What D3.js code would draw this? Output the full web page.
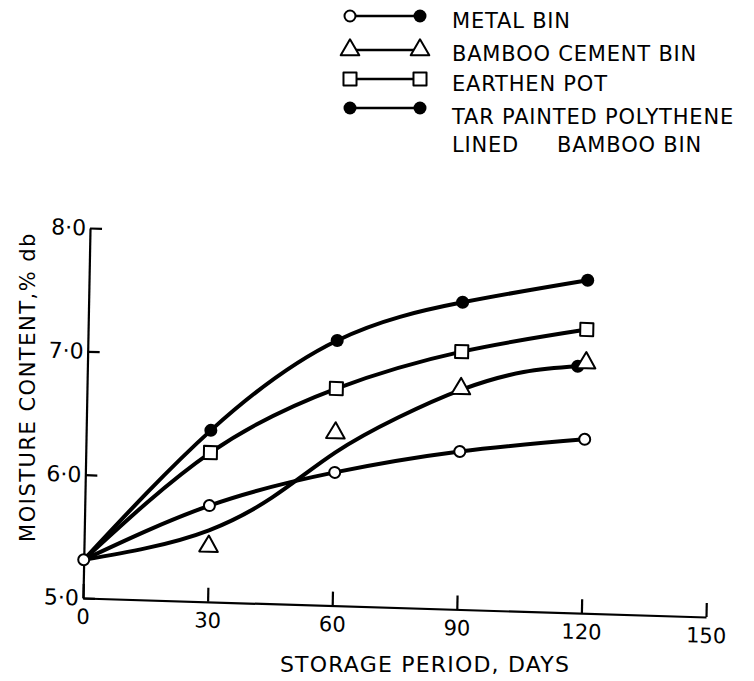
<!DOCTYPE html>
<html>
<head>
<meta charset="utf-8">
<script src="https://cdn.jsdelivr.net/npm/d3@7"></script>
<style>
  body { margin: 0; background: #fff; }
  text { font-family: "DejaVu Sans", sans-serif; fill: #000; }
</style>
</head>
<body>
<svg id="chart" width="754" height="681"></svg>
<script>
// storage period (days) and moisture content (% db)
var days = [0, 30, 60, 90, 120];
var metalBin = [5.31, 5.78, 6.08, 6.28, 6.41];
var bambooCementBin = [5.31, 5.45, 6.40, 6.79, 7.03];
var earthenPot = [5.31, 6.21, 6.76, 7.09, 7.30];
var tarPaintedBin = [5.31, 6.39, 7.15, 7.49, 7.70];

// the bamboo cement bin curve is a fitted line, it does not pass through its points
var bambooCurveDays = [0, 15, 30, 45, 60, 75, 90, 105, 118];
var bambooCurve = [5.31, 5.42, 5.58, 5.86, 6.24, 6.54, 6.78, 6.94, 7.00];

var xTicks = [0, 30, 60, 90, 120, 150];
var yTicks = [5, 6, 7, 8];
var yTickLabels = ["5·0", "6·0", "7·0", "8·0"];

var legendLabels = ["METAL BIN", "BAMBOO CEMENT BIN", "EARTHEN POT", "TAR PAINTED POLYTHENE"];
var legendMarkers = [["open", "filled"], ["triangle", "triangle"], ["square", "square"], ["filled", "filled"]];

var svg = d3.select("#chart");

var xScale = d3.scaleLinear().domain([0, 150]).range([0, 623]);
var yScale = d3.scaleLinear().domain([5, 8]).range([0, -370]);

// the scanned figure is a little skewed, so the plot frame is too
var plot = svg.append("g")
  .attr("transform", "translate(83,598) matrix(1,0.0305,-0.019,1,0,0)");

function drawMarker(g, type, x, y)
{
  if (type == "open") {
    g.append("circle").attr("cx", x).attr("cy", y).attr("r", 5.5)
     .attr("fill", "#fff").attr("stroke", "#000").attr("stroke-width", 2);
  } else if (type == "filled") {
    g.append("circle").attr("cx", x).attr("cy", y).attr("r", 6.5).attr("fill", "#000");
  } else {
    var sym = type == "square" ? d3.symbolSquare : d3.symbolTriangle;
    var size = type == "square" ? 170 : 150;
    g.append("path")
     .attr("d", d3.symbol().type(sym).size(size)())
     .attr("transform", "translate(" + x + "," + y + ")")
     .attr("fill", "#fff").attr("stroke", "#000").attr("stroke-width", 2)
     .attr("stroke-linejoin", "round");
  }
}

// axes
var xAxis = d3.axisBottom(xScale).tickValues(xTicks)
  .tickSizeInner(-14).tickSizeOuter(0).tickPadding(11)
  .tickFormat(d3.format("d"));
var gx = plot.append("g").call(xAxis);
gx.attr("font-size", 21).attr("font-family", "DejaVu Sans");

var yAxis = d3.axisLeft(yScale).tickValues(yTicks)
  .tickSizeInner(-12).tickSizeOuter(0).tickPadding(4)
  .tickFormat(function(d, i) { return yTickLabels[i]; });
var gy = plot.append("g").call(yAxis);
gy.attr("font-size", 22).attr("font-family", "DejaVu Sans");

plot.selectAll(".domain, .tick line").attr("stroke", "#000").attr("stroke-width", 2.2);

// curves
var line = d3.line()
  .x(function(d) { return xScale(d.day); })
  .y(function(d) { return yScale(d.value); })
  .curve(d3.curveNatural);

function toPoints(xs, ys)
{
  return xs.map(function(x, i) { return {day: x, value: ys[i]}; });
}

var series = [
  {values: tarPaintedBin, marker: "filled"},
  {values: earthenPot, marker: "square"},
  {values: metalBin, marker: "open"}
];

series.forEach(function(s) {
  plot.append("path").attr("d", line(toPoints(days, s.values)))
    .attr("fill", "none").attr("stroke", "#000").attr("stroke-width", 4)
    .attr("stroke-linecap", "round");
});

var bambooPts = toPoints(bambooCurveDays, bambooCurve);
plot.append("path").attr("d", line(bambooPts))
  .attr("fill", "none").attr("stroke", "#000").attr("stroke-width", 4)
  .attr("stroke-linecap", "round");
var lastPt = bambooPts[bambooPts.length - 1];
drawMarker(plot, "filled", xScale(lastPt.day), yScale(lastPt.value));

// markers (only the metal bin marker is shown at day 0)
toPoints(days, bambooCementBin).forEach(function(p) {
  if (p.day > 0) drawMarker(plot, "triangle", xScale(p.day), yScale(p.value));
});
series.forEach(function(s) {
  toPoints(days, s.values).forEach(function(p) {
    if (p.day > 0 || s.marker == "open")
      drawMarker(plot, s.marker, xScale(p.day), yScale(p.value));
  });
});

// axis titles
svg.append("text")
  .attr("transform", "translate(35,387) rotate(-90)")
  .attr("text-anchor", "middle").attr("font-size", 21).attr("letter-spacing", 1.5)
  .text("MOISTURE CONTENT,% db");

svg.append("text")
  .attr("x", 425).attr("y", 672)
  .attr("text-anchor", "middle").attr("font-size", 22).attr("letter-spacing", 1.2)
  .text("STORAGE  PERIOD, DAYS");

// legend
var legendRows = [16, 50, 79, 108];
var legendBase = [28, 61, 91, 124];
var legend = svg.append("g");
legendLabels.forEach(function(label, i) {
  var y = legendRows[i];
  legend.append("line").attr("x1", 352).attr("x2", 420).attr("y1", y).attr("y2", y)
    .attr("stroke", "#000").attr("stroke-width", 2.5);
  drawMarker(legend, legendMarkers[i][0], 350, y);
  drawMarker(legend, legendMarkers[i][1], 420, y);
  legend.append("text").attr("x", 452).attr("y", legendBase[i])
    .attr("font-size", 21).attr("letter-spacing", 0.8).text(label);
});
var lined = legend.append("text").attr("x", 452).attr("y", 152)
  .attr("font-size", 21).attr("letter-spacing", 0.8);
lined.append("tspan").text("LINED");
lined.append("tspan").attr("x", 557).text("BAMBOO BIN");
</script>
</body>
</html>
